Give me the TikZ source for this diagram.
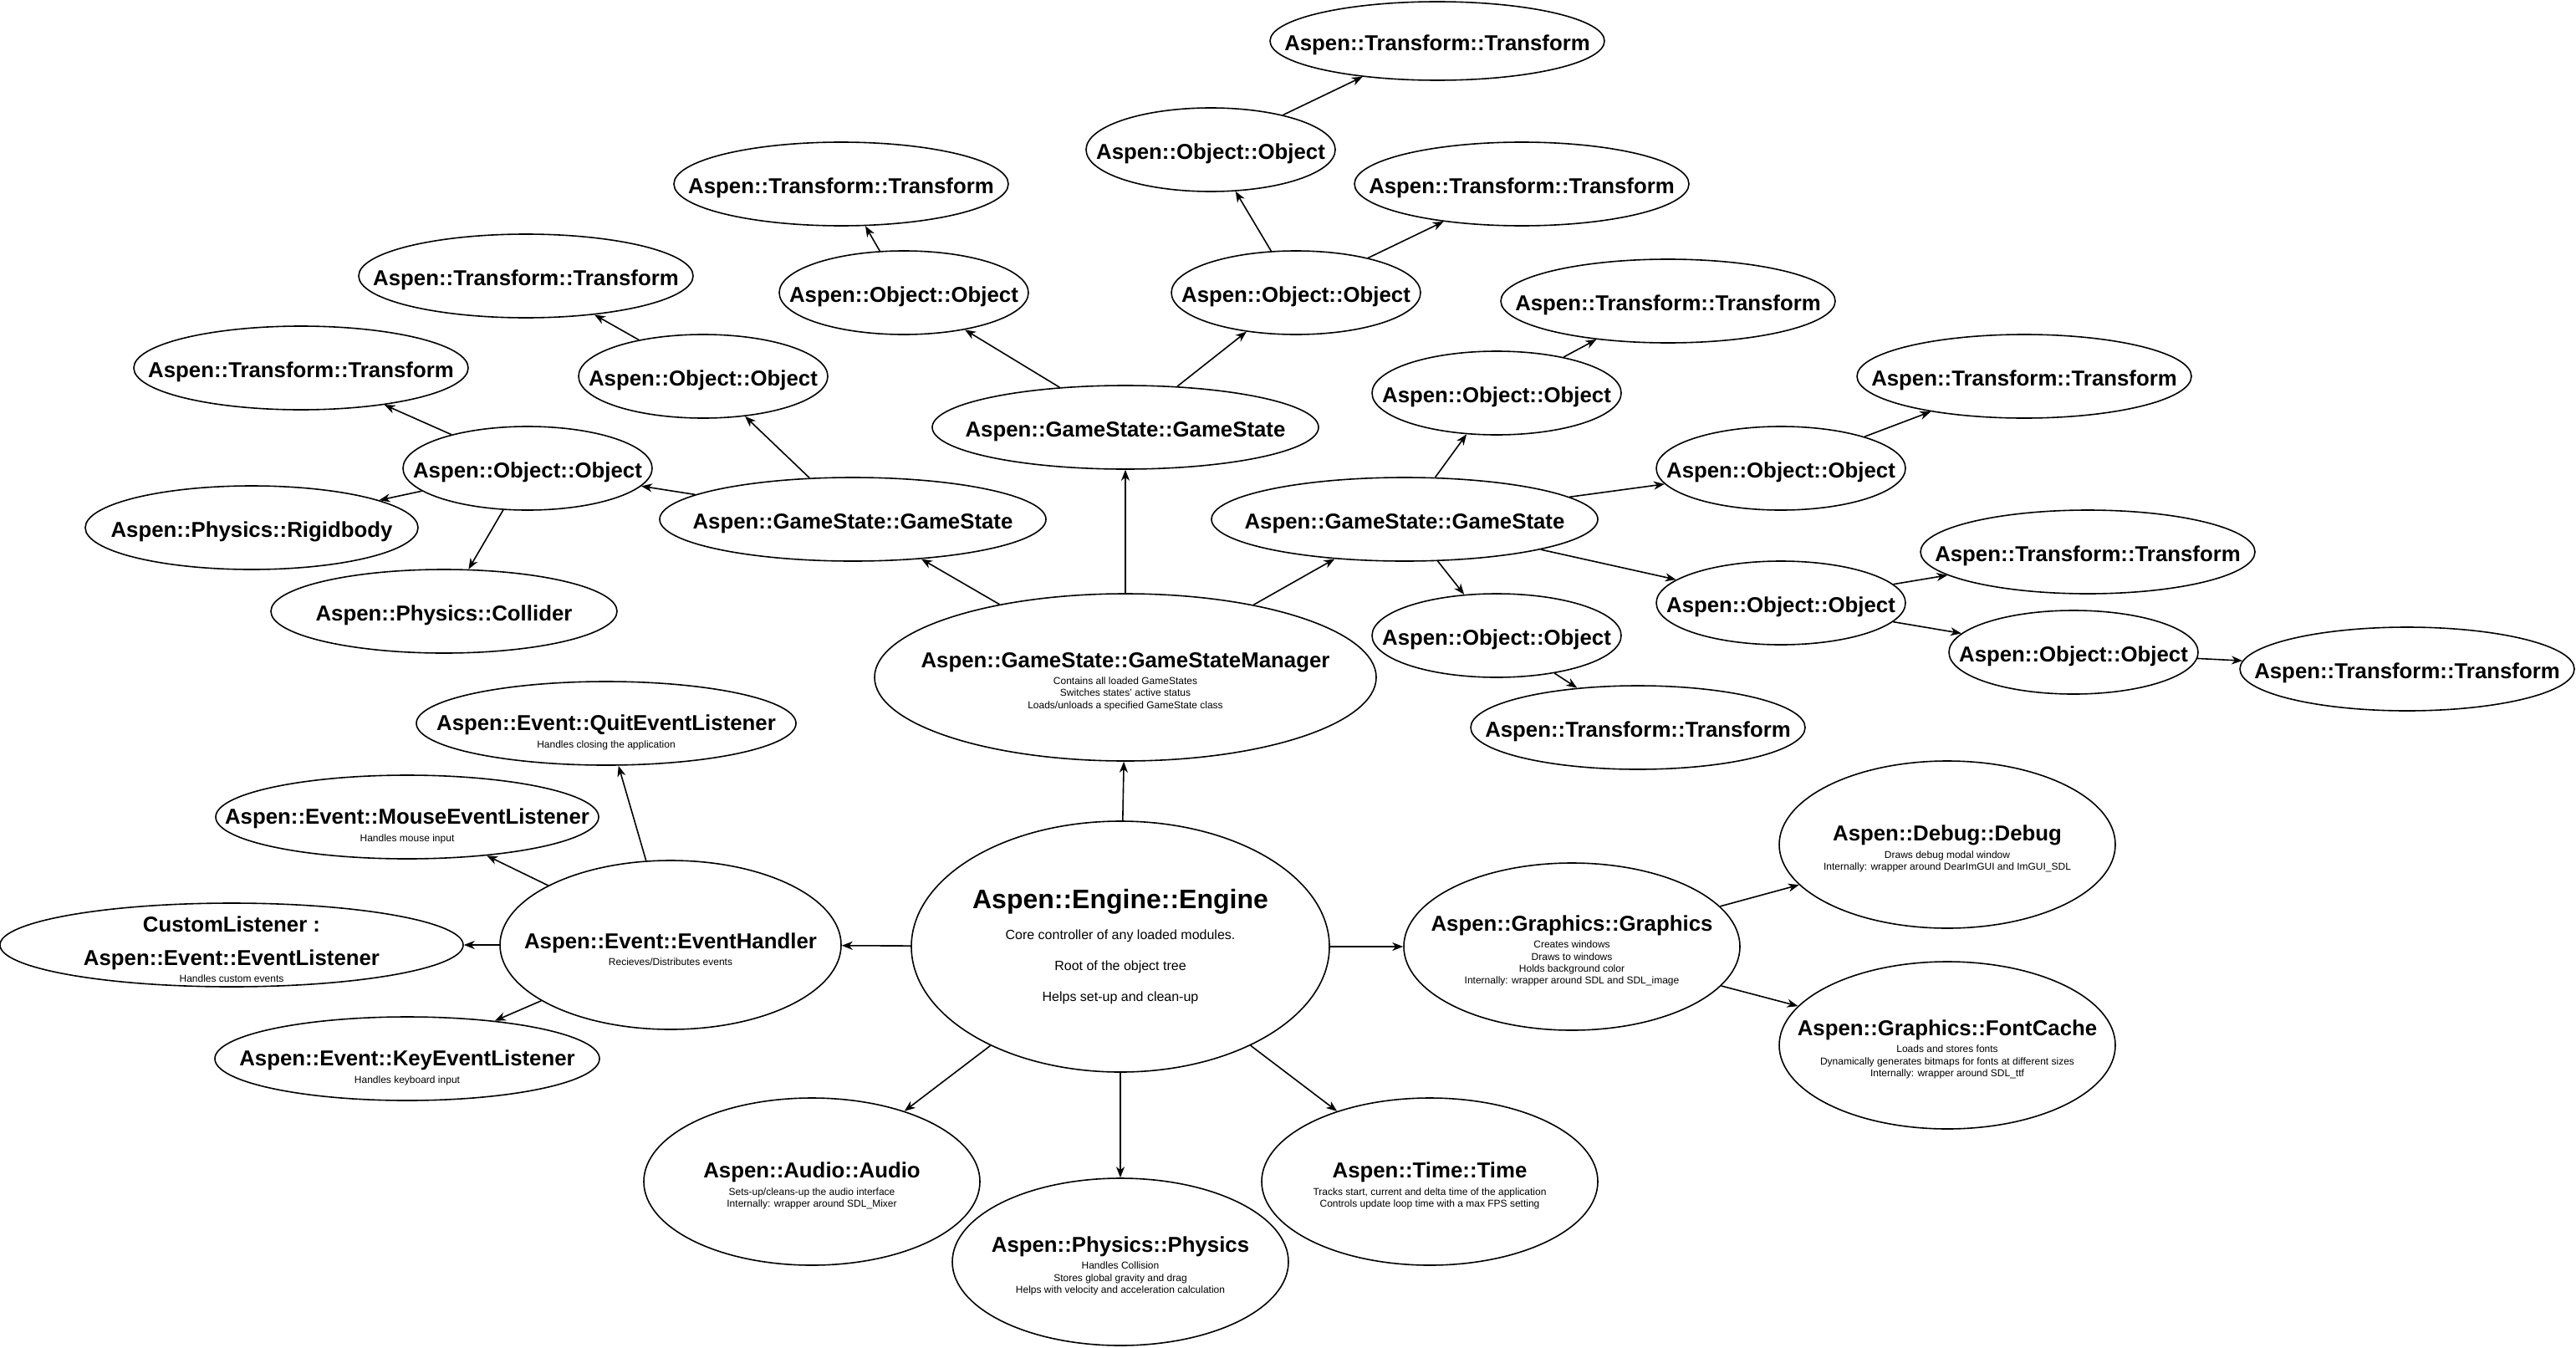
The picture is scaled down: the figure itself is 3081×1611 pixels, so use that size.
\documentclass[tikz,border=0pt]{standalone}
\usepackage{fontspec}
\setmainfont{Liberation Sans}
\usetikzlibrary{shapes.geometric, arrows.meta}
\newcommand\nodetitle[1]{{\fontsize{12.9}{14}\selectfont\bfseries #1}}
\begin{document}
\begin{tikzpicture}[x=0.5pt,y=-0.5pt,
  ell/.style={ellipse, draw, line width=0.8pt, inner sep=0pt},
  lbl/.style={align=center, inner sep=0pt, font=\fontsize{6}{7.2}\selectfont, yshift=-2.5pt},
  txt/.style={label={[lbl]center:{#1}}},
  txtlow/.style={label={[lbl, yshift=-3pt]center:{#1}}},
  txteng/.style={label={[lbl, yshift=2.5pt]center:{#1}}},
  tr/.style={ell, minimum width=200pt, minimum height=50pt},
  ob/.style={ell, minimum width=149pt, minimum height=50pt},
  gs/.style={ell, minimum width=231pt, minimum height=50pt},
  big/.style={ell, minimum width=201pt, minimum height=100pt},
  arr/.style={-{Stealth[length=6.5pt,width=5pt,inset=2pt]}, line width=0.8pt},
]
\fill[white] (0,0) rectangle (3081,1611);
\useasboundingbox (0,0) rectangle (3081,1611);

% ---- GameState tree ----
\node[tr, minimum height=47pt, txt={\nodetitle{Aspen::Transform::Transform}}] (T1) at (1719,49) {};
\node[ob, txt={\nodetitle{Aspen::Object::Object}}] (O1) at (1448,179) {};
\node[tr, txt={\nodetitle{Aspen::Transform::Transform}}] (T2) at (1820,220) {};
\node[ob, txt={\nodetitle{Aspen::Object::Object}}] (O2) at (1550,350) {};
\node[tr, txt={\nodetitle{Aspen::Transform::Transform}}] (T3) at (1006,220) {};
\node[ob, txt={\nodetitle{Aspen::Object::Object}}] (O3) at (1081,350) {};
\node[gs, txt={\nodetitle{Aspen::GameState::GameState}}] (GS1) at (1346,511) {};
\node[tr, txt={\nodetitle{Aspen::Transform::Transform}}] (T4) at (629,330) {};
\node[ob, txt={\nodetitle{Aspen::Object::Object}}] (O4) at (841,450) {};
\node[tr, txt={\nodetitle{Aspen::Transform::Transform}}] (T5) at (360,440) {};
\node[ob, txt={\nodetitle{Aspen::Object::Object}}] (O5) at (631,560) {};
\node[ell, minimum width=199pt, minimum height=50pt, txt={\nodetitle{Aspen::Physics::Rigidbody}}] (R) at (301,631) {};
\node[ell, minimum width=207pt, minimum height=50pt, txt={\nodetitle{Aspen::Physics::Collider}}] (C) at (531,731) {};
\node[gs, txt={\nodetitle{Aspen::GameState::GameState}}] (GS2) at (1020,621) {};
\node[ell, minimum width=300pt, minimum height=100pt,
  txt={\nodetitle{Aspen::GameState::GameStateManager}\\[3pt]
   Contains all loaded GameStates\\ Switches states' active status\\ Loads/unloads a specified GameState class}] (GSM) at (1346,810) {};
\node[gs, txt={\nodetitle{Aspen::GameState::GameState}}] (GS3) at (1680,621) {};
\node[ob, txt={\nodetitle{Aspen::Object::Object}}] (O6) at (1790,470) {};
\node[tr, txt={\nodetitle{Aspen::Transform::Transform}}] (T6) at (1995,360) {};
\node[ob, txt={\nodetitle{Aspen::Object::Object}}] (O7) at (2130,560) {};
\node[tr, txt={\nodetitle{Aspen::Transform::Transform}}] (T7) at (2421,450) {};
\node[ob, txt={\nodetitle{Aspen::Object::Object}}] (O8) at (2130,721) {};
\node[tr, txt={\nodetitle{Aspen::Transform::Transform}}] (T8) at (2497,660) {};
\node[ob, txt={\nodetitle{Aspen::Object::Object}}] (O9) at (2480,780) {};
\node[tr, txt={\nodetitle{Aspen::Transform::Transform}}] (T9) at (2879,800) {};
\node[ob, txt={\nodetitle{Aspen::Object::Object}}] (O10) at (1790,760) {};
\node[tr, txt={\nodetitle{Aspen::Transform::Transform}}] (T10) at (1959,870) {};

% ---- Engine and modules ----
\node[ell, minimum width=250pt, minimum height=150pt,
  txteng={{\fontsize{16}{19}\selectfont\bfseries Aspen::Engine::Engine}\\[8pt]
   {\fontsize{8}{9.6}\selectfont Core controller of any loaded modules.}\\[10pt]
   {\fontsize{8}{9.6}\selectfont Root of the object tree}\\[10pt]
   {\fontsize{8}{9.6}\selectfont Helps set-up and clean-up}}] (E) at (1340,1132) {};
\node[ell, minimum width=204pt, minimum height=101pt,
  txt={\nodetitle{Aspen::Event::EventHandler}\\[3pt] Recieves/Distributes events}] (EH) at (802,1130) {};
\node[ell, minimum width=227pt, minimum height=50pt,
  txtlow={\nodetitle{Aspen::Event::QuitEventListener}\\[3pt] Handles closing the application}] (Q) at (725,865) {};
\node[ell, minimum width=229pt, minimum height=50pt,
  txtlow={\nodetitle{Aspen::Event::MouseEventListener}\\[3pt] Handles mouse input}] (M) at (487,977) {};
\node[ell, minimum width=277pt, minimum height=50pt,
  txt={\nodetitle{CustomListener :}\\[9.5pt] \nodetitle{Aspen::Event::EventListener}\\[3pt] Handles custom events}] (CL) at (277,1130) {};
\node[ell, minimum width=230pt, minimum height=50pt,
  txtlow={\nodetitle{Aspen::Event::KeyEventListener}\\[3pt] Handles keyboard input}] (K) at (487,1266) {};
\node[big, txt={\nodetitle{Aspen::Graphics::Graphics}\\[3pt] Creates windows\\ Draws to windows\\ Holds background color\\ Internally: wrapper around SDL and SDL\_image}] (G) at (1880,1132) {};
\node[big, txt={\nodetitle{Aspen::Debug::Debug}\\[3pt] Draws debug modal window\\ Internally: wrapper around DearImGUI and ImGUI\_SDL}] (D) at (2329,1010) {};
\node[big, txt={\nodetitle{Aspen::Graphics::FontCache}\\[3pt] Loads and stores fonts\\ Dynamically generates bitmaps for fonts at different sizes\\ Internally: wrapper around SDL\_ttf}] (FC) at (2329,1250) {};
\node[big, txt={\nodetitle{Aspen::Audio::Audio}\\[3pt] Sets-up/cleans-up the audio interface\\ Internally: wrapper around SDL\_Mixer}] (A) at (971,1413) {};
\node[big, txt={\nodetitle{Aspen::Physics::Physics}\\[3pt] Handles Collision\\ Stores global gravity and drag\\ Helps with velocity and acceleration calculation}] (P) at (1340,1509) {};
\node[big, txt={\nodetitle{Aspen::Time::Time}\\[3pt] Tracks start, current and delta time of the application\\ Controls update loop time with a max FPS setting}] (Ti) at (1710,1413) {};

% ---- connectors ----
\draw[arr] (E) -- (GSM);
\draw[arr] (GSM) -- (GS1);
\draw[arr] (GSM) -- (GS2);
\draw[arr] (GSM) -- (GS3);
\draw[arr] (GS1) -- (O3);
\draw[arr] (GS1) -- (O2);
\draw[arr] (O3) -- (T3);
\draw[arr] (O2) -- (O1);
\draw[arr] (O2) -- (T2);
\draw[arr] (O1) -- (T1);
\draw[arr] (GS2) -- (O4);
\draw[arr] (GS2) -- (O5);
\draw[arr] (O4) -- (T4);
\draw[arr] (O5) -- (T5);
\draw[arr] (O5) -- (R);
\draw[arr] (O5) -- (C);
\draw[arr] (GS3) -- (O6);
\draw[arr] (GS3) -- (O7);
\draw[arr] (GS3) -- (O8);
\draw[arr] (GS3) -- (O10);
\draw[arr] (O6) -- (T6);
\draw[arr] (O7) -- (T7);
\draw[arr] (O8) -- (T8);
\draw[arr] (O8) -- (O9);
\draw[arr] (O9) -- (T9);
\draw[arr] (O10) -- (T10);
\draw[arr] (E) -- (EH);
\draw[arr] (EH) -- (Q);
\draw[arr] (EH) -- (M);
\draw[arr] (EH) -- (CL);
\draw[arr] (EH) -- (K);
\draw[arr] (E) -- (G);
\draw[arr] (G) -- (D);
\draw[arr] (G) -- (FC);
\draw[arr] (E) -- (A);
\draw[arr] (E) -- (P);
\draw[arr] (E) -- (Ti);
\end{tikzpicture}
\end{document}
